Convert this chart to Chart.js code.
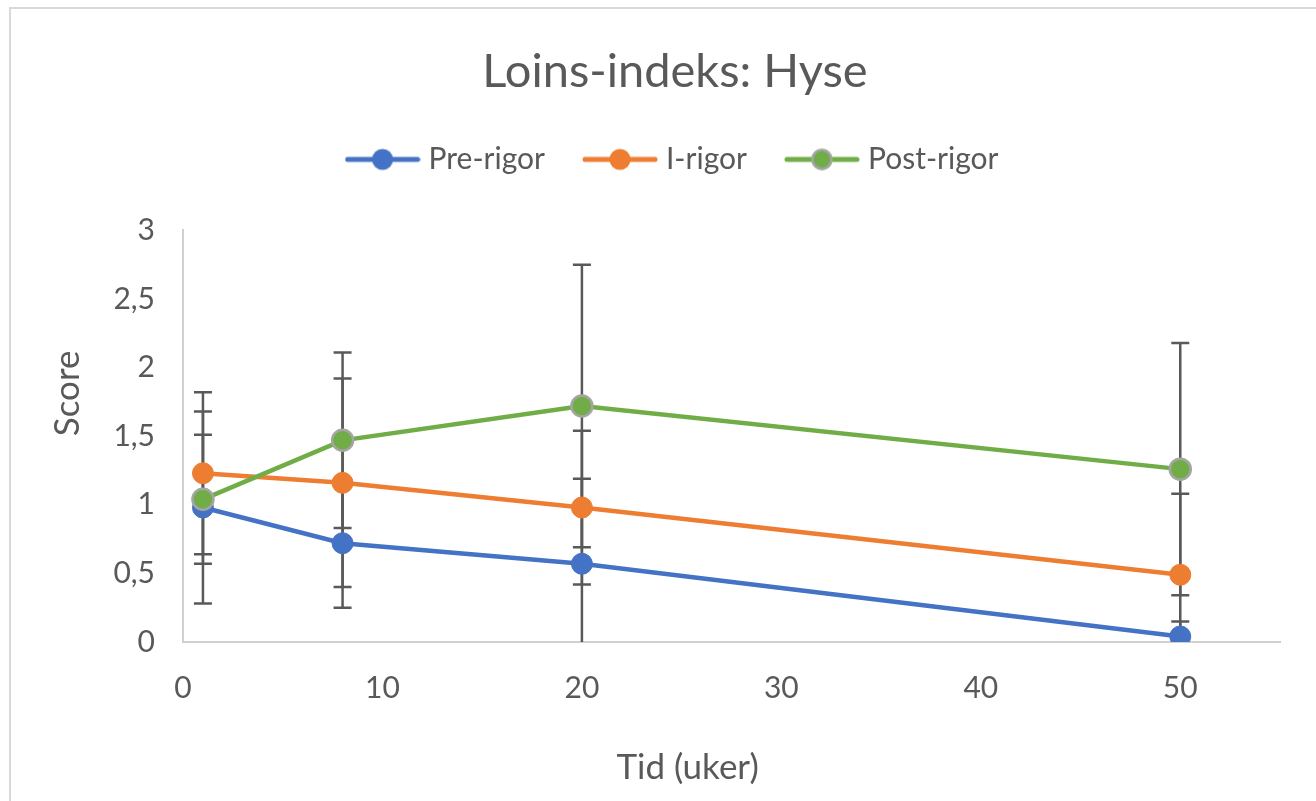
<!DOCTYPE html>
<html>
<head>
<meta charset="utf-8">
<script src="https://cdn.jsdelivr.net/npm/chart.js@4"></script>
<style>
  html, body { margin: 0; padding: 0; background: #fff; }
</style>
</head>
<body>
<canvas id="c" width="1316" height="801"></canvas>
<script>
// weeks on the x axis
const weeks = [1, 8, 20, 50];

const preRigor = [0.98, 0.72, 0.57, 0.04];
const preRigorErr = [0.70, 0.47, 0.62, 0.11];

const iRigor = [1.23, 1.16, 0.98, 0.49];
const iRigorErr = [0.59, 0.76, 0.56, 0.59];

const postRigor = [1.04, 1.47, 1.72, 1.26];
const postRigorErr = [0.47, 0.64, 1.03, 0.92];

const seriesNames = ['Pre-rigor', 'I-rigor', 'Post-rigor'];
const xTicks = [0, 10, 20, 30, 40, 50];
const yTicks = [0, 0.5, 1, 1.5, 2, 2.5, 3];

const textColor = '#595959';
const fontFamily = 'Lato, "Open Sans", sans-serif';

function points(vals) {
  return vals.map((v, i) => ({ x: weeks[i], y: v }));
}

// legend icon: a short line with the marker in the middle
function legendIcon(color, border) {
  const c = document.createElement('canvas');
  c.width = 76; c.height = 26;
  const g = c.getContext('2d');
  g.strokeStyle = color; g.lineWidth = 5; g.lineCap = 'round';
  g.beginPath(); g.moveTo(3, 13); g.lineTo(73, 13); g.stroke();
  g.fillStyle = color;
  g.beginPath(); g.arc(38, 13, 10.5, 0, Math.PI * 2); g.fill();
  if (border) {
    g.strokeStyle = border; g.lineWidth = 2.5;
    g.beginPath(); g.arc(38, 13, 9.5, 0, Math.PI * 2); g.stroke();
  }
  return c;
}

const icons = [
  legendIcon('#4472C4'),
  legendIcon('#ED7D31'),
  legendIcon('#70AD47', '#A5A5A5')
];

const errorBars = {
  id: 'errorBars',
  beforeDatasetsDraw(chart) {
    const { ctx, chartArea, scales: { x, y } } = chart;
    ctx.save();
    ctx.beginPath();
    ctx.rect(chartArea.left, chartArea.top - 2, chartArea.width, chartArea.height + 2);
    ctx.clip();
    ctx.strokeStyle = '#595959';
    ctx.lineWidth = 2.5;
    chart.data.datasets.forEach(ds => {
      ds.data.forEach((p, i) => {
        const px = x.getPixelForValue(p.x);
        const hi = y.getPixelForValue(p.y + ds.err[i]);
        const lo = y.getPixelForValue(p.y - ds.err[i]);
        ctx.beginPath();
        ctx.moveTo(px, hi); ctx.lineTo(px, lo);
        ctx.moveTo(px - 9, hi); ctx.lineTo(px + 9, hi);
        ctx.moveTo(px - 9, lo); ctx.lineTo(px + 9, lo);
        ctx.stroke();
      });
    });
    ctx.restore();
  }
};

const frame = {
  id: 'frame',
  afterInit(chart) {
    // extra room under the legend, like the Excel original
    const lg = chart.legend;
    const fit = lg.fit;
    lg.fit = function () { fit.call(this); this.height += 46; };
  },
  beforeDraw(chart) {
    const ctx = chart.ctx;
    ctx.save();
    ctx.strokeStyle = '#d9d9d9';
    ctx.lineWidth = 2;
    ctx.beginPath();
    ctx.moveTo(10, 801); ctx.lineTo(10, 8); ctx.lineTo(1316, 8);
    ctx.stroke();
    ctx.restore();
  },
  afterDraw(chart) {
    const { ctx, chartArea } = chart;
    ctx.save();
    ctx.fillStyle = textColor;
    ctx.font = '35px ' + fontFamily;
    ctx.textAlign = 'center';
    ctx.textBaseline = 'middle';
    ctx.fillText('Tid (uker)', chartArea.left + chartArea.width * 0.46, 768);
    ctx.translate(68, chartArea.top + chartArea.height * 0.396);
    ctx.rotate(-Math.PI / 2);
    ctx.fillText('Score', 0, 0);
    ctx.restore();
  }
};

new Chart(document.getElementById('c'), {
  type: 'line',
  data: {
    datasets: [{
      label: seriesNames[0],
      data: points(preRigor),
      err: preRigorErr,
      borderColor: '#4472C4',
      backgroundColor: '#4472C4',
      pointBackgroundColor: '#4472C4',
      pointBorderColor: '#4472C4',
      order: 3
    }, {
      label: seriesNames[1],
      data: points(iRigor),
      err: iRigorErr,
      borderColor: '#ED7D31',
      backgroundColor: '#ED7D31',
      pointBackgroundColor: '#ED7D31',
      pointBorderColor: '#ED7D31',
      order: 2
    }, {
      label: seriesNames[2],
      data: points(postRigor),
      err: postRigorErr,
      borderColor: '#70AD47',
      backgroundColor: '#70AD47',
      pointBackgroundColor: '#70AD47',
      pointBorderColor: '#A5A5A5',
      pointBorderWidth: 2.5,
      order: 1
    }]
  },
  options: {
    responsive: false,
    devicePixelRatio: 1,
    animation: false,
    layout: { padding: { left: 70, right: 36, top: 0, bottom: 0 } },
    elements: {
      line: { borderWidth: 4.5, tension: 0, fill: false },
      point: { radius: 10.5, hoverRadius: 10.5, borderWidth: 1 }
    },
    scales: {
      x: {
        type: 'linear',
        min: 0,
        max: 55,
        afterBuildTicks: s => { s.ticks = xTicks.map(v => ({ value: v })); },
        afterFit: s => { s.height = 159; },
        grid: { display: false, drawTicks: false },
        border: { display: true, color: '#d0d0d0', width: 2 },
        ticks: { color: textColor, font: { family: fontFamily, size: 30 }, padding: 28, maxRotation: 0 }
      },
      y: {
        min: 0,
        max: 3,
        afterBuildTicks: s => { s.ticks = yTicks.map(v => ({ value: v })); },
        afterFit: s => { s.width = 113; },
        grid: { display: false, drawTicks: false },
        border: { display: true, color: '#d0d0d0', width: 2 },
        ticks: {
          color: textColor,
          font: { family: fontFamily, size: 30 },
          padding: 28,
          callback: v => String(v).replace('.', ',')
        }
      }
    },
    plugins: {
      title: {
        display: true,
        text: 'Loins-indeks: Hyse',
        color: textColor,
        font: { family: fontFamily, size: 47, weight: 'normal' },
        padding: { top: 44, bottom: 0 }
      },
      legend: {
        position: 'top',
        labels: {
          color: textColor,
          font: { family: fontFamily, size: 30 },
          usePointStyle: true,
          pointStyleWidth: 62,
          padding: 44,
          generateLabels(chart) {
            const items = Chart.defaults.plugins.legend.labels.generateLabels(chart);
            items.sort((a, b) => a.datasetIndex - b.datasetIndex);
            items.forEach(it => { it.pointStyle = icons[it.datasetIndex]; });
            return items;
          }
        }
      },
      tooltip: { enabled: false }
    }
  },
  plugins: [errorBars, frame]
});
</script>
</body>
</html>
